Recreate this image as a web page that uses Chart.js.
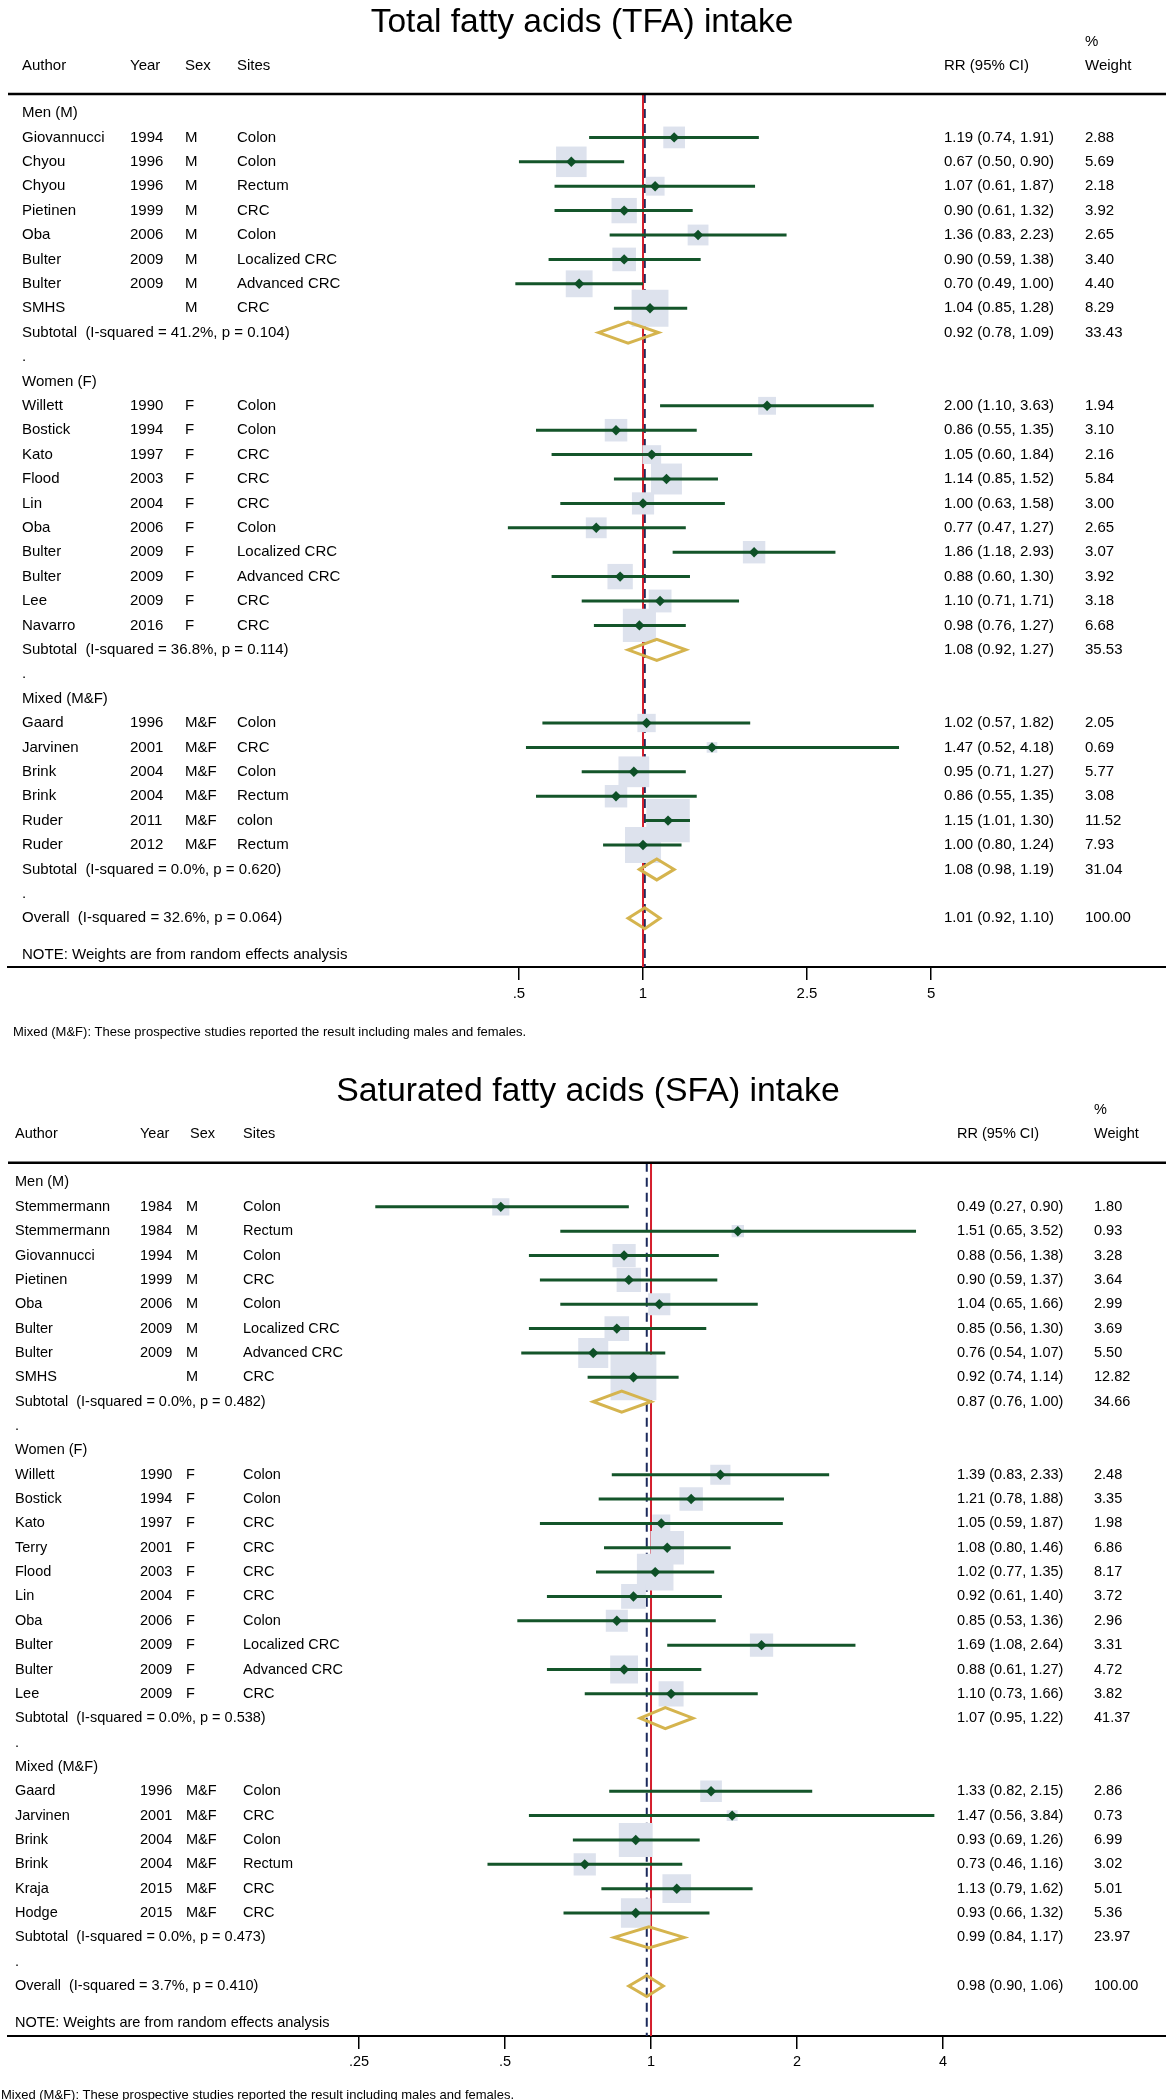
<!DOCTYPE html>
<html>
<head>
<meta charset="utf-8">
<script src="https://cdn.jsdelivr.net/npm/chart.js@4.4.1/dist/chart.umd.min.js"></script>
<style>
  html, body { margin: 0; padding: 0; background: #fff; }
  .panel { position: absolute; left: 0; width: 1166px; height: 1050px; }
</style>
</head>
<body>
<div class="panel" style="top:0"><canvas id="tfa" width="1166" height="1050"></canvas></div>
<div class="panel" style="top:1050px"><canvas id="sfa" width="1166" height="1050"></canvas></div>
<script>
const groupLabels = ['Men (M)', 'Women (F)', 'Mixed (M&F)'];

// Total fatty acids
const tfaAuthor = ['Giovannucci', 'Chyou', 'Chyou', 'Pietinen', 'Oba', 'Bulter', 'Bulter', 'SMHS',
  'Willett', 'Bostick', 'Kato', 'Flood', 'Lin', 'Oba', 'Bulter', 'Bulter', 'Lee', 'Navarro',
  'Gaard', 'Jarvinen', 'Brink', 'Brink', 'Ruder', 'Ruder'];
const tfaYear = ['1994', '1996', '1996', '1999', '2006', '2009', '2009', '',
  '1990', '1994', '1997', '2003', '2004', '2006', '2009', '2009', '2009', '2016',
  '1996', '2001', '2004', '2004', '2011', '2012'];
const tfaSex = ['M', 'M', 'M', 'M', 'M', 'M', 'M', 'M',
  'F', 'F', 'F', 'F', 'F', 'F', 'F', 'F', 'F', 'F',
  'M&F', 'M&F', 'M&F', 'M&F', 'M&F', 'M&F'];
const tfaSite = ['Colon', 'Colon', 'Rectum', 'CRC', 'Colon', 'Localized CRC', 'Advanced CRC', 'CRC',
  'Colon', 'Colon', 'CRC', 'CRC', 'CRC', 'Colon', 'Localized CRC', 'Advanced CRC', 'CRC', 'CRC',
  'Colon', 'CRC', 'Colon', 'Rectum', 'colon', 'Rectum'];
const tfaGroup = [0, 0, 0, 0, 0, 0, 0, 0, 1, 1, 1, 1, 1, 1, 1, 1, 1, 1, 2, 2, 2, 2, 2, 2];
const tfaRR = [1.19, 0.67, 1.07, 0.90, 1.36, 0.90, 0.70, 1.04,
  2.00, 0.86, 1.05, 1.14, 1.00, 0.77, 1.86, 0.88, 1.10, 0.98,
  1.02, 1.47, 0.95, 0.86, 1.15, 1.00];
const tfaLow = [0.74, 0.50, 0.61, 0.61, 0.83, 0.59, 0.49, 0.85,
  1.10, 0.55, 0.60, 0.85, 0.63, 0.47, 1.18, 0.60, 0.71, 0.76,
  0.57, 0.52, 0.71, 0.55, 1.01, 0.80];
const tfaHigh = [1.91, 0.90, 1.87, 1.32, 2.23, 1.38, 1.00, 1.28,
  3.63, 1.35, 1.84, 1.52, 1.58, 1.27, 2.93, 1.30, 1.71, 1.27,
  1.82, 4.18, 1.27, 1.35, 1.30, 1.24];
const tfaWeight = [2.88, 5.69, 2.18, 3.92, 2.65, 3.40, 4.40, 8.29,
  1.94, 3.10, 2.16, 5.84, 3.00, 2.65, 3.07, 3.92, 3.18, 6.68,
  2.05, 0.69, 5.77, 3.08, 11.52, 7.93];
const tfaSubRR = [0.92, 1.08, 1.08];
const tfaSubLow = [0.78, 0.92, 0.98];
const tfaSubHigh = [1.09, 1.27, 1.19];
const tfaSubWeight = [33.43, 35.53, 31.04];
const tfaSubHet = ['41.2%, p = 0.104', '36.8%, p = 0.114', '0.0%, p = 0.620'];
const tfaOverall = [1.01, 0.92, 1.10, 100.00];
const tfaOverallHet = '32.6%, p = 0.064';
const tfaTicks = [0.5, 1, 2.5, 5];
const tfaTickLabels = ['.5', '1', '2.5', '5'];

// Saturated fatty acids
const sfaAuthor = ['Stemmermann', 'Stemmermann', 'Giovannucci', 'Pietinen', 'Oba', 'Bulter', 'Bulter', 'SMHS',
  'Willett', 'Bostick', 'Kato', 'Terry', 'Flood', 'Lin', 'Oba', 'Bulter', 'Bulter', 'Lee',
  'Gaard', 'Jarvinen', 'Brink', 'Brink', 'Kraja', 'Hodge'];
const sfaYear = ['1984', '1984', '1994', '1999', '2006', '2009', '2009', '',
  '1990', '1994', '1997', '2001', '2003', '2004', '2006', '2009', '2009', '2009',
  '1996', '2001', '2004', '2004', '2015', '2015'];
const sfaSex = ['M', 'M', 'M', 'M', 'M', 'M', 'M', 'M',
  'F', 'F', 'F', 'F', 'F', 'F', 'F', 'F', 'F', 'F',
  'M&F', 'M&F', 'M&F', 'M&F', 'M&F', 'M&F'];
const sfaSite = ['Colon', 'Rectum', 'Colon', 'CRC', 'Colon', 'Localized CRC', 'Advanced CRC', 'CRC',
  'Colon', 'Colon', 'CRC', 'CRC', 'CRC', 'CRC', 'Colon', 'Localized CRC', 'Advanced CRC', 'CRC',
  'Colon', 'CRC', 'Colon', 'Rectum', 'CRC', 'CRC'];
const sfaGroup = [0, 0, 0, 0, 0, 0, 0, 0, 1, 1, 1, 1, 1, 1, 1, 1, 1, 1, 2, 2, 2, 2, 2, 2];
const sfaRR = [0.49, 1.51, 0.88, 0.90, 1.04, 0.85, 0.76, 0.92,
  1.39, 1.21, 1.05, 1.08, 1.02, 0.92, 0.85, 1.69, 0.88, 1.10,
  1.33, 1.47, 0.93, 0.73, 1.13, 0.93];
const sfaLow = [0.27, 0.65, 0.56, 0.59, 0.65, 0.56, 0.54, 0.74,
  0.83, 0.78, 0.59, 0.80, 0.77, 0.61, 0.53, 1.08, 0.61, 0.73,
  0.82, 0.56, 0.69, 0.46, 0.79, 0.66];
const sfaHigh = [0.90, 3.52, 1.38, 1.37, 1.66, 1.30, 1.07, 1.14,
  2.33, 1.88, 1.87, 1.46, 1.35, 1.40, 1.36, 2.64, 1.27, 1.66,
  2.15, 3.84, 1.26, 1.16, 1.62, 1.32];
const sfaWeight = [1.80, 0.93, 3.28, 3.64, 2.99, 3.69, 5.50, 12.82,
  2.48, 3.35, 1.98, 6.86, 8.17, 3.72, 2.96, 3.31, 4.72, 3.82,
  2.86, 0.73, 6.99, 3.02, 5.01, 5.36];
const sfaSubRR = [0.87, 1.07, 0.99];
const sfaSubLow = [0.76, 0.95, 0.84];
const sfaSubHigh = [1.00, 1.22, 1.17];
const sfaSubWeight = [34.66, 41.37, 23.97];
const sfaSubHet = ['0.0%, p = 0.482', '0.0%, p = 0.538', '0.0%, p = 0.473'];
const sfaOverall = [0.98, 0.90, 1.06, 100.00];
const sfaOverallHet = '3.7%, p = 0.410';
const sfaTicks = [0.25, 0.5, 1, 2, 4];
const sfaTickLabels = ['.25', '.5', '1', '2', '4'];

const GREEN = '#14552a';
const BOX = '#dde2ed';
const GOLD = '#d5b44e';
const RED = '#d41f2d';
const NAVY = '#1c2a5c';
const FAMILY = '"Liberation Sans", Arial, Helvetica, sans-serif';

function buildRows(groups) {
  const rows = [];
  let r = 0;
  for (let g = 0; g < groupLabels.length; g++) {
    rows.push({kind: 'group', g, r: r++});
    groups.forEach((gg, i) => { if (gg === g) rows.push({kind: 'study', i, r: r++}); });
    rows.push({kind: 'sub', g, r: r++});
    rows.push({kind: 'dot', r: r++});
  }
  rows.push({kind: 'overall', r: r++});
  rows.push({kind: 'note', r: r + 0.5});
  return rows;
}

function ciText(e, l, h) {
  return e.toFixed(2) + ' (' + l.toFixed(2) + ', ' + h.toFixed(2) + ')';
}

function makePanel(id, d, lay) {
  const rows = buildRows(d.group);
  const studies = rows.filter(o => o.kind === 'study');
  const boxData = studies.map(o => ({x: d.rr[o.i], y: o.r}));
  const boxRadius = studies.map(o => lay.boxK * Math.sqrt(d.weight[o.i]) / Math.SQRT2);
  const ciData = [];
  studies.forEach(o => {
    ciData.push({x: d.low[o.i], y: o.r}, {x: d.high[o.i], y: o.r}, {x: d.high[o.i], y: null});
  });
  const font = lay.fontSize + 'px ' + FAMILY;

  const forest = {
    id: 'forest_' + id,
    beforeDatasetsDraw(chart) {
      const {ctx, chartArea: a, scales: {x}} = chart;
      ctx.save();
      ctx.lineWidth = 2;
      ctx.strokeStyle = NAVY;
      ctx.setLineDash([9, 6]);
      const xd = x.getPixelForValue(d.overall[0]);
      ctx.beginPath(); ctx.moveTo(xd, a.top); ctx.lineTo(xd, a.bottom); ctx.stroke();
      ctx.setLineDash([]);
      ctx.strokeStyle = RED;
      const x1 = x.getPixelForValue(1);
      ctx.beginPath(); ctx.moveTo(x1, a.top); ctx.lineTo(x1, a.bottom); ctx.stroke();
      ctx.restore();
    },
    afterDatasetsDraw(chart) {
      const {ctx, scales: {x, y}} = chart;
      ctx.save();
      ctx.strokeStyle = GOLD;
      ctx.lineWidth = 3;
      ctx.lineJoin = 'miter';
      const diamond = (e, l, h, r) => {
        const py = y.getPixelForValue(r);
        ctx.beginPath();
        ctx.moveTo(x.getPixelForValue(l), py);
        ctx.lineTo(x.getPixelForValue(e), py - lay.diamondH);
        ctx.lineTo(x.getPixelForValue(h), py);
        ctx.lineTo(x.getPixelForValue(e), py + lay.diamondH);
        ctx.closePath();
        ctx.stroke();
      };
      rows.forEach(o => {
        if (o.kind === 'sub') diamond(d.subRR[o.g], d.subLow[o.g], d.subHigh[o.g], o.r);
        if (o.kind === 'overall') diamond(d.overall[0], d.overall[1], d.overall[2], o.r);
      });
      ctx.restore();
    },
    afterDraw(chart) {
      const {ctx, chartArea: a, scales: {y}} = chart;
      const c = lay.cols;
      ctx.save();
      ctx.fillStyle = '#000';
      // header rule
      ctx.strokeStyle = '#000';
      ctx.lineWidth = 2.5;
      ctx.beginPath(); ctx.moveTo(8, a.top); ctx.lineTo(chart.width, a.top); ctx.stroke();
      // title
      ctx.font = lay.titleSize + 'px ' + FAMILY;
      ctx.textAlign = 'center';
      ctx.textBaseline = 'alphabetic';
      ctx.fillText(d.title, lay.titleX, lay.titleY);
      // headers
      ctx.font = font;
      ctx.textAlign = 'left';
      ctx.textBaseline = 'middle';
      ctx.fillText('Author', c.author, lay.headY);
      ctx.fillText('Year', c.year, lay.headY);
      ctx.fillText('Sex', c.sexHead, lay.headY);
      ctx.fillText('Sites', c.site, lay.headY);
      ctx.fillText('RR (95% CI)', c.rr, lay.headY);
      ctx.fillText('Weight', c.weight, lay.headY);
      ctx.fillText('%', c.weight, lay.pctY);
      rows.forEach(o => {
        const py = y.getPixelForValue(o.r);
        if (o.kind === 'group') ctx.fillText(groupLabels[o.g], c.author, py);
        if (o.kind === 'dot') ctx.fillText('.', c.author, py);
        if (o.kind === 'note') ctx.fillText('NOTE: Weights are from random effects analysis', c.author, py);
        if (o.kind === 'study') {
          const i = o.i;
          ctx.fillText(d.author[i], c.author, py);
          ctx.fillText(d.year[i], c.year, py);
          ctx.fillText(d.sex[i], c.sex, py);
          ctx.fillText(d.site[i], c.site, py);
          ctx.fillText(ciText(d.rr[i], d.low[i], d.high[i]), c.rr, py);
          ctx.fillText(d.weight[i].toFixed(2), c.weight, py);
        }
        if (o.kind === 'sub') {
          const g = o.g;
          ctx.fillText('Subtotal  (I-squared = ' + d.subHet[g] + ')', c.author, py);
          ctx.fillText(ciText(d.subRR[g], d.subLow[g], d.subHigh[g]), c.rr, py);
          ctx.fillText(d.subWeight[g].toFixed(2), c.weight, py);
        }
        if (o.kind === 'overall') {
          ctx.fillText('Overall  (I-squared = ' + d.overallHet + ')', c.author, py);
          ctx.fillText(ciText(d.overall[0], d.overall[1], d.overall[2]), c.rr, py);
          ctx.fillText(d.overall[3].toFixed(2), c.weight, py);
        }
      });
      ctx.font = '13px ' + FAMILY;
      ctx.fillText('Mixed (M&F): These prospective studies reported the result including males and females.', lay.footX, lay.footY);
      ctx.restore();
    }
  };

  return new Chart(document.getElementById(id), {
    type: 'scatter',
    data: {
      datasets: [
        {
          data: boxData, order: 3, pointStyle: 'rect', pointRadius: boxRadius,
          pointHoverRadius: boxRadius, backgroundColor: BOX, borderWidth: 0
        },
        {
          data: ciData, order: 2, showLine: true, spanGaps: false, pointRadius: 0,
          pointHoverRadius: 0, borderColor: GREEN, borderWidth: 3, tension: 0
        },
        {
          data: boxData, order: 1, pointStyle: 'rectRot', pointRadius: 5.2,
          pointHoverRadius: 5.2, backgroundColor: '#0e5027', borderWidth: 0
        }
      ]
    },
    options: {
      responsive: false,
      animation: false,
      events: [],
      layout: {padding: lay.padding, autoPadding: false},
      plugins: {legend: {display: false}, tooltip: {enabled: false}},
      scales: {
        x: {
          type: 'logarithmic',
          min: lay.xMin,
          max: lay.xMax,
          afterBuildTicks: s => { s.ticks = d.ticks.map(v => ({value: v})); },
          ticks: {
            callback: (v, i) => d.tickLabels[i],
            autoSkip: false, maxRotation: 0, color: '#000', padding: lay.tickPad,
            font: {family: FAMILY, size: lay.fontSize}
          },
          grid: {display: true, drawOnChartArea: false, drawTicks: true, tickLength: 13, color: '#000', lineWidth: 1.5},
          border: {display: true, color: '#000', width: 2}
        },
        y: {
          type: 'linear', display: false, reverse: true, bounds: 'data',
          min: lay.yMin, max: lay.yMax
        }
      }
    },
    plugins: [forest]
  });
}

makePanel('tfa', {
  title: 'Total fatty acids (TFA) intake',
  author: tfaAuthor, year: tfaYear, sex: tfaSex, site: tfaSite, group: tfaGroup,
  rr: tfaRR, low: tfaLow, high: tfaHigh, weight: tfaWeight,
  subRR: tfaSubRR, subLow: tfaSubLow, subHigh: tfaSubHigh, subWeight: tfaSubWeight, subHet: tfaSubHet,
  overall: tfaOverall, overallHet: tfaOverallHet, ticks: tfaTicks, tickLabels: tfaTickLabels
}, {
  fontSize: 15, titleSize: 33.5, titleX: 582, titleY: 32, headY: 66, pctY: 42,
  cols: {author: 22, year: 130, sex: 185, sexHead: 185, site: 237, rr: 944, weight: 1085},
  padding: {left: 8, right: 0, top: 94, bottom: 42}, tickPad: 5,
  xMin: 0.02879, xMax: 18.575, yMin: -0.779, yMax: 35.0,
  boxK: 12.8, diamondH: 10.5, footX: 13, footY: 1032
});

makePanel('sfa', {
  title: 'Saturated fatty acids (SFA) intake',
  author: sfaAuthor, year: sfaYear, sex: sfaSex, site: sfaSite, group: sfaGroup,
  rr: sfaRR, low: sfaLow, high: sfaHigh, weight: sfaWeight,
  subRR: sfaSubRR, subLow: sfaSubLow, subHigh: sfaSubHigh, subWeight: sfaSubWeight, subHet: sfaSubHet,
  overall: sfaOverall, overallHet: sfaOverallHet, ticks: sfaTicks, tickLabels: sfaTickLabels
}, {
  fontSize: 14.5, titleSize: 33.8, titleX: 588, titleY: 51, headY: 84, pctY: 60,
  cols: {author: 15, year: 140, sex: 186, sexHead: 190, site: 243, rr: 957, weight: 1094},
  padding: {left: 8, right: 0, top: 112.7, bottom: 24.6}, tickPad: 4.5,
  xMin: 0.0472, xMax: 11.535, yMin: -0.813, yMax: 35.05,
  boxK: 12.8, diamondH: 10.5, footX: 1, footY: 1045
});
</script>
</body>
</html>
